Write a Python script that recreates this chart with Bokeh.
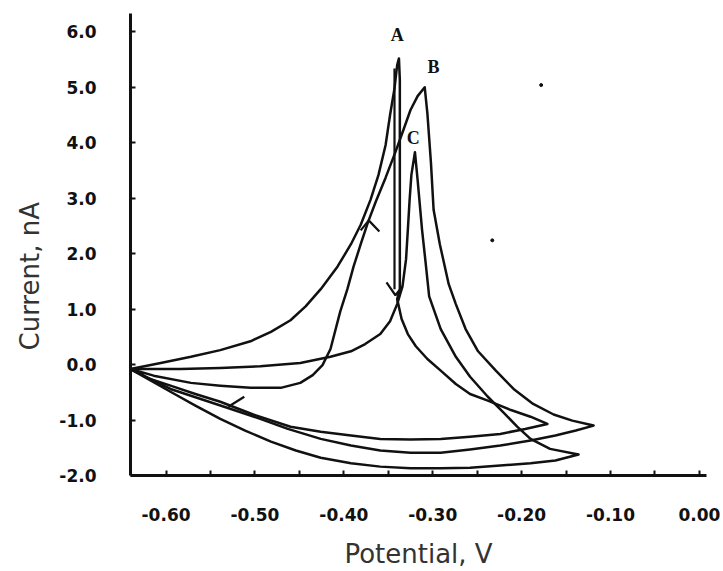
from bokeh.plotting import figure
from bokeh.models import FixedTicker, PrintfTickFormatter, Range1d, Title
from bokeh.embed import file_html
from bokeh.resources import INLINE
from bokeh.core.properties import value

# ---- tick values ----
potential_ticks = [-0.60, -0.50, -0.40, -0.30, -0.20, -0.10, 0.00]
potential_minor = [-0.55, -0.45, -0.35, -0.25, -0.15, -0.05]
current_ticks = [-2, -1, 0, 1, 2, 3, 4, 5, 6]

# ---- voltammogram A (potential V, current nA) ----
a_x = [-0.640, -0.606, -0.572, -0.539, -0.505, -0.482, -0.460, -0.443, -0.426, -0.407,
       -0.392, -0.381, -0.370, -0.361, -0.353, -0.348, -0.343, -0.340, -0.338,
       -0.337, -0.337, -0.340, -0.335, -0.328, -0.319, -0.306, -0.291, -0.274, -0.258,
       -0.238, -0.212, -0.190, -0.171,
       -0.196, -0.224, -0.258, -0.291, -0.325, -0.359, -0.392, -0.426, -0.460, -0.502,
       -0.539, -0.567, -0.595, -0.618, -0.640]
a_y = [-0.08, 0.03, 0.14, 0.26, 0.42, 0.59, 0.80, 1.05, 1.36, 1.77,
       2.17, 2.52, 2.97, 3.42, 3.96, 4.50, 4.98, 5.40, 5.52,
       5.13, 1.36, 1.18, 0.82, 0.55, 0.33, 0.10, -0.11, -0.35, -0.53,
       -0.65, -0.82, -0.94, -1.07,
       -1.16, -1.25, -1.30, -1.34, -1.35, -1.34, -1.28, -1.21, -1.12, -0.90,
       -0.67, -0.53, -0.38, -0.26, -0.08]

# ---- voltammogram B ----
b_x = [-0.640, -0.614, -0.572, -0.539, -0.505, -0.471, -0.449, -0.435, -0.424, -0.415,
       -0.404, -0.396, -0.389, -0.381, -0.373, -0.364, -0.353, -0.342, -0.333, -0.325,
       -0.317, -0.309,
       -0.306, -0.302, -0.299, -0.292, -0.282, -0.274, -0.263, -0.249, -0.229, -0.209,
       -0.187, -0.164, -0.143, -0.119,
       -0.139, -0.162, -0.190, -0.224, -0.258, -0.291, -0.325, -0.359, -0.392, -0.426,
       -0.463, -0.494, -0.527, -0.561, -0.595, -0.618, -0.640]
b_y = [-0.08, -0.20, -0.33, -0.38, -0.42, -0.42, -0.33, -0.19, -0.01, 0.28,
       0.96, 1.36, 1.77, 2.17, 2.56, 2.94, 3.37, 3.83, 4.23, 4.59,
       4.84, 5.00,
       4.53, 3.64, 2.79, 2.17, 1.45, 1.09, 0.64, 0.24, -0.11, -0.44,
       -0.71, -0.90, -1.01, -1.10,
       -1.19, -1.28, -1.37, -1.46, -1.53, -1.59, -1.59, -1.55, -1.46, -1.34,
       -1.16, -0.98, -0.80, -0.62, -0.44, -0.26, -0.08]

# ---- voltammogram C ----
c_x = [-0.640, -0.584, -0.539, -0.494, -0.449, -0.415, -0.392, -0.376, -0.359, -0.348,
       -0.340, -0.334, -0.330, -0.328, -0.326, -0.324, -0.320,
       -0.317, -0.312, -0.308, -0.304, -0.291, -0.274, -0.258, -0.238, -0.220, -0.205,
       -0.190, -0.168, -0.136,
       -0.162, -0.190, -0.224, -0.258, -0.291, -0.325, -0.359, -0.392, -0.426, -0.454,
       -0.482, -0.511, -0.539, -0.567, -0.595, -0.618, -0.640]
c_y = [-0.08, -0.08, -0.06, -0.03, 0.03, 0.14, 0.24, 0.37, 0.55, 0.78,
       1.09, 1.41, 1.90, 2.43, 2.97, 3.42, 3.83,
       3.33, 2.43, 1.84, 1.23, 0.64, 0.14, -0.22, -0.58, -0.87, -1.12,
       -1.34, -1.52, -1.62,
       -1.73, -1.78, -1.82, -1.86, -1.87, -1.87, -1.84, -1.78, -1.68, -1.55,
       -1.39, -1.19, -0.98, -0.74, -0.49, -0.28, -0.08]

# ---- scan-direction arrows ----
down_shaft_x = [-0.343, -0.343]
down_shaft_y = [5.34, 1.36]
down_head_x = [-0.352, -0.342, -0.334]
down_head_y = [1.48, 1.25, 1.41]
up_head_x = [-0.381, -0.372, -0.360]
up_head_y = [2.42, 2.60, 2.40]
left_head_x = [-0.512, -0.530]
left_head_y = [-0.58, -0.76]

# ---- specks on the scan ----
speck_x = [-0.178, -0.233]
speck_y = [5.04, 2.24]

# ---- peak labels ----
peak_names = ["A", "B", "C"]
peak_lx = [-0.340, -0.299, -0.322]
peak_ly = [5.94, 5.36, 4.09]

INK = "#111111"

p = figure(width=720, height=571,
           x_range=Range1d(-0.640, 0.008), y_range=Range1d(-2.0, 6.33),
           output_backend="svg", toolbar_location=None,
           min_border_left=130, min_border_right=14,
           min_border_top=13, min_border_bottom=94)
p.outline_line_color = None
p.xgrid.visible = False
p.ygrid.visible = False
p.background_fill_color = "white"
p.border_fill_color = "white"

for xs, ys in [(a_x, a_y), (b_x, b_y), (c_x, c_y)]:
    p.line(xs, ys, line_color=INK, line_width=2.5, line_join="round")

p.line(down_shaft_x, down_shaft_y, line_color=INK, line_width=2.2)
p.line(down_head_x, down_head_y, line_color=INK, line_width=2.2)
p.line(up_head_x, up_head_y, line_color=INK, line_width=2.2)
p.line(left_head_x, left_head_y, line_color=INK, line_width=2.2)
p.scatter(speck_x, speck_y, size=3, color=INK)

p.text(peak_lx, peak_ly, text=peak_names, text_font=value("Liberation Serif"),
       text_font_style="bold", text_font_size="18px", text_color=INK,
       text_align="center", text_baseline="middle")

# axes
p.xaxis.ticker = FixedTicker(ticks=potential_ticks, minor_ticks=potential_minor)
p.yaxis.ticker = FixedTicker(ticks=current_ticks)
p.xaxis.formatter = PrintfTickFormatter(format="%.2f")
p.yaxis.formatter = PrintfTickFormatter(format="%.1f")
for ax in (p.xaxis[0], p.yaxis[0]):
    ax.axis_line_width = 3
    ax.axis_line_color = INK
    ax.major_tick_in = 5
    ax.major_tick_out = 0
    ax.minor_tick_in = 5
    ax.minor_tick_out = 0
    ax.major_tick_line_width = 2
    ax.minor_tick_line_width = 2
    ax.major_tick_line_color = INK
    ax.minor_tick_line_color = INK
    ax.major_label_text_font = "DejaVu Sans"
    ax.major_label_text_font_style = "bold"
    ax.major_label_text_font_size = "17px"
    ax.major_label_text_color = INK
p.xaxis.major_label_standoff = 32
p.yaxis.major_label_standoff = 34

p.xaxis.axis_label = "Potential, V"
p.xaxis.axis_label_standoff = 15
p.xaxis.axis_label_text_font = "DejaVu Sans"
p.xaxis.axis_label_text_font_style = "normal"
p.xaxis.axis_label_text_font_size = "26px"
p.xaxis.axis_label_text_color = "#333333"

ytitle = Title(text="Current, nA", align="left", offset=125, standoff=24,
               text_font="DejaVu Sans", text_font_style="normal",
               text_font_size="26px", text_color="#333333")
p.add_layout(ytitle, "left")

open("out.html", "w").write(file_html(p, INLINE))
